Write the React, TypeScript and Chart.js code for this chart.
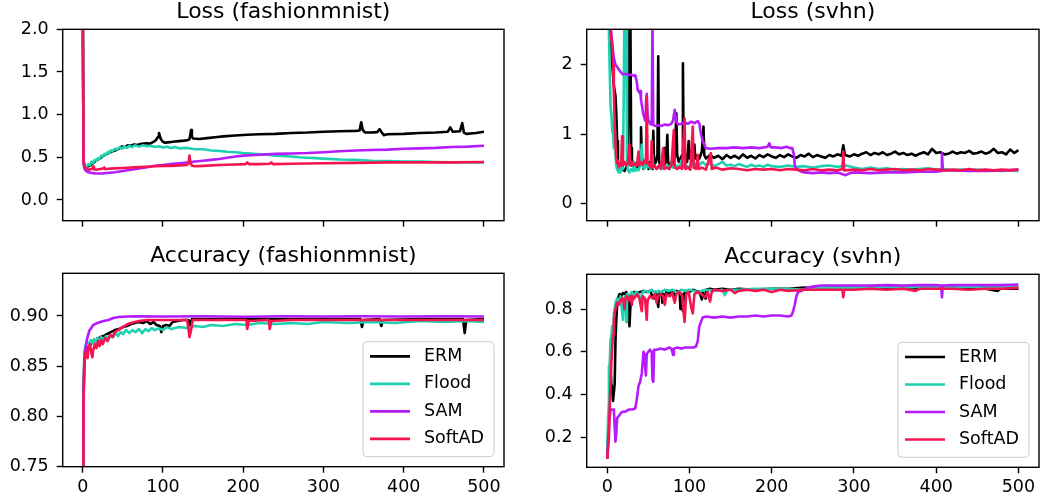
import React, { useEffect, useRef } from "react";
import { Chart, registerables } from "chart.js";
Chart.register(...registerables);

type Pt = [number, number];

const SERIES_NAMES = ["ERM", "Flood", "SAM", "SoftAD"];
const SERIES_COLORS = ["#000000", "#1fd1b1", "#b51cfd", "#f5144f"];
const X_TICKS = [0, 100, 200, 300, 400, 500];

// ---------- Loss (fashionmnist) ----------
const fmLossERM: Pt[] = [[0,2.3],[1,0.46],[2,0.41],[4,0.38],[6,0.39],[8,0.40],[10,0.41],[14,0.44],[18,0.47],[22,0.49],[26,0.52],[30,0.54],[35,0.56],[40,0.58],[45,0.60],[48,0.625],[52,0.62],[56,0.64],[60,0.635],[64,0.65],[68,0.645],[72,0.655],[76,0.66],[80,0.665],[84,0.66],[88,0.68],[91,0.70],[94,0.74],[95,0.785],[97,0.72],[99,0.69],[102,0.67],[106,0.675],[110,0.68],[115,0.685],[120,0.69],[126,0.695],[130,0.70],[133,0.71],[135,0.82],[136,0.74],[138,0.72],[145,0.715],[155,0.725],[165,0.735],[175,0.745],[190,0.755],[205,0.765],[220,0.77],[240,0.775],[260,0.785],[280,0.79],[300,0.80],[320,0.805],[340,0.81],[345,0.815],[347,0.91],[349,0.82],[352,0.79],[360,0.79],[367,0.795],[370,0.83],[372,0.80],[375,0.76],[380,0.77],[400,0.775],[420,0.785],[440,0.79],[455,0.80],[458,0.85],[461,0.80],[470,0.805],[473,0.90],[475,0.79],[478,0.775],[490,0.785],[500,0.80]];
const fmLossFlood: Pt[] = [[0,2.3],[1,0.45],[3,0.40],[5,0.39],[7,0.42],[9,0.41],[11,0.45],[13,0.43],[15,0.47],[17,0.46],[19,0.49],[21,0.48],[23,0.52],[25,0.51],[27,0.54],[29,0.53],[31,0.56],[33,0.55],[35,0.58],[37,0.57],[40,0.60],[43,0.59],[46,0.62],[49,0.60],[52,0.63],[55,0.61],[58,0.635],[61,0.62],[65,0.64],[70,0.625],[75,0.64],[80,0.63],[85,0.635],[90,0.62],[95,0.63],[100,0.615],[105,0.625],[110,0.61],[115,0.62],[120,0.605],[130,0.61],[140,0.595],[150,0.595],[160,0.58],[170,0.575],[180,0.565],[190,0.56],[200,0.55],[210,0.545],[220,0.535],[230,0.53],[240,0.52],[250,0.515],[260,0.51],[270,0.50],[280,0.495],[290,0.49],[300,0.485],[320,0.475],[340,0.47],[360,0.46],[380,0.455],[400,0.45],[420,0.45],[440,0.445],[460,0.44],[480,0.44],[500,0.44]];
const fmLossSAM: Pt[] = [[0,2.3],[1,0.42],[2,0.37],[4,0.34],[7,0.325],[10,0.318],[15,0.312],[20,0.31],[25,0.312],[30,0.316],[40,0.325],[50,0.34],[60,0.355],[70,0.37],[80,0.385],[90,0.40],[100,0.41],[110,0.42],[120,0.43],[130,0.44],[140,0.45],[150,0.46],[160,0.47],[170,0.48],[180,0.495],[190,0.51],[200,0.52],[220,0.53],[240,0.54],[260,0.545],[280,0.55],[300,0.56],[320,0.57],[340,0.58],[360,0.585],[380,0.59],[400,0.60],[420,0.605],[440,0.61],[460,0.62],[480,0.625],[500,0.635]];
const fmLossSoftAD: Pt[] = [[0,2.3],[1,0.46],[2,0.40],[4,0.37],[6,0.36],[8,0.355],[10,0.36],[12,0.37],[13,0.39],[14,0.36],[17,0.355],[20,0.36],[24,0.365],[27,0.38],[28,0.36],[32,0.365],[40,0.37],[50,0.375],[60,0.38],[70,0.385],[80,0.39],[90,0.395],[100,0.40],[110,0.40],[120,0.405],[130,0.41],[132,0.43],[133,0.52],[134,0.45],[136,0.40],[140,0.395],[150,0.40],[170,0.41],[190,0.415],[203,0.42],[205,0.44],[207,0.42],[220,0.42],[233,0.425],[235,0.44],[237,0.42],[260,0.425],[300,0.43],[340,0.435],[380,0.44],[420,0.44],[460,0.44],[500,0.445]];

// ---------- Loss (svhn) ----------
const svLossERM: Pt[] = [[0,3.0],[2,2.8],[4,2.4],[6,2.0],[8,1.7],[10,1.55],[11,1.3],[12,0.9],[13,0.6],[15,0.5],[17,0.48],[19,0.5],[21,0.47],[23,0.52],[25,0.6],[26,1.5],[27,3.0],[28,3.0],[29,0.8],[30,0.55],[32,0.6],[34,0.5],[36,0.55],[38,0.5],[40,0.6],[41,1.1],[42,0.7],[44,0.5],[46,0.55],[48,0.6],[50,0.5],[52,0.6],[55,0.5],[56,1.05],[57,0.55],[59,0.6],[61,0.7],[62,2.12],[63,0.6],[65,0.55],[67,0.6],[69,0.8],[70,0.55],[72,0.65],[73,0.99],[74,0.6],[76,0.55],[78,0.6],[80,0.55],[82,0.65],[84,1.3],[85,0.7],[87,0.6],[89,0.65],[91,0.7],[92,2.02],[93,0.65],[95,0.7],[97,0.6],[99,0.9],[100,0.65],[102,0.75],[104,0.6],[106,0.85],[107,0.65],[110,0.7],[112,0.65],[115,0.75],[117,1.11],[118,0.7],[120,0.65],[125,0.7],[130,0.66],[135,0.69],[140,0.64],[145,0.7],[150,0.66],[155,0.69],[160,0.65],[165,0.71],[170,0.66],[175,0.69],[180,0.65],[185,0.7],[190,0.67],[195,0.71],[200,0.68],[205,0.66],[210,0.7],[215,0.67],[220,0.71],[225,0.68],[230,0.66],[235,0.7],[240,0.68],[245,0.72],[250,0.67],[255,0.7],[260,0.68],[265,0.66],[270,0.7],[275,0.68],[280,0.71],[285,0.69],[287,0.84],[289,0.7],[295,0.68],[300,0.71],[305,0.69],[310,0.72],[315,0.74],[320,0.7],[325,0.73],[330,0.71],[335,0.74],[340,0.7],[345,0.72],[350,0.75],[355,0.71],[360,0.73],[365,0.7],[370,0.72],[375,0.69],[380,0.72],[385,0.74],[390,0.71],[395,0.79],[400,0.73],[405,0.74],[410,0.71],[415,0.72],[420,0.75],[425,0.72],[430,0.74],[435,0.73],[440,0.76],[445,0.72],[450,0.73],[455,0.75],[460,0.72],[465,0.74],[470,0.79],[475,0.73],[480,0.74],[485,0.71],[490,0.78],[495,0.73],[500,0.77]];
const svLossFlood: Pt[] = [[0,3.0],[2,2.5],[3,1.9],[4,1.4],[5,1.3],[6,1.05],[7,1.0],[8,0.8],[9,1.2],[10,0.7],[11,0.55],[12,0.5],[13,0.47],[14,0.45],[15,0.55],[16,0.45],[17,0.48],[18,0.85],[19,0.5],[20,1.5],[21,3.0],[22,3.0],[23,3.0],[24,0.6],[25,0.48],[27,0.45],[29,0.5],[31,0.47],[33,0.6],[34,0.47],[36,0.5],[38,0.48],[40,0.55],[42,0.85],[43,0.55],[45,0.5],[47,0.6],[49,0.52],[51,0.55],[53,0.5],[55,0.7],[56,0.52],[58,0.55],[60,0.5],[63,0.55],[66,0.5],[68,0.62],[70,0.52],[73,0.55],[76,0.5],[78,0.6],[80,0.52],[84,0.55],[88,0.52],[90,0.62],[92,0.52],[96,0.55],[100,0.52],[105,0.6],[108,0.53],[112,0.56],[116,0.6],[120,0.55],[125,0.58],[130,0.54],[135,0.57],[140,0.6],[145,0.55],[150,0.56],[155,0.54],[160,0.57],[165,0.55],[170,0.53],[175,0.56],[180,0.54],[185,0.55],[190,0.53],[195,0.56],[200,0.54],[210,0.53],[220,0.55],[230,0.53],[240,0.54],[250,0.52],[260,0.54],[270,0.55],[280,0.53],[290,0.55],[300,0.52],[310,0.5],[320,0.52],[330,0.5],[340,0.51],[350,0.49],[360,0.5],[370,0.49],[380,0.5],[390,0.51],[400,0.49],[410,0.5],[420,0.48],[430,0.49],[440,0.48],[450,0.49],[460,0.48],[470,0.48],[480,0.47],[490,0.48],[500,0.47]];
const svLossSAM: Pt[] = [[0,3.0],[2,2.9],[4,2.6],[6,2.3],[8,2.1],[10,2.0],[12,1.97],[14,1.93],[16,1.9],[18,1.87],[20,1.86],[23,1.87],[26,1.85],[29,1.86],[32,1.84],[34,1.85],[36,1.75],[37,1.64],[39,1.6],[40,1.62],[41,1.5],[43,1.35],[44,1.28],[46,1.2],[47,1.45],[48,1.58],[49,1.3],[50,1.2],[52,1.15],[54,1.14],[55,2.6],[56,1.13],[58,1.12],[62,1.13],[66,1.12],[70,1.14],[74,1.13],[78,1.15],[80,1.2],[82,1.35],[84,1.18],[86,1.14],[90,1.15],[94,1.17],[98,1.15],[102,1.18],[106,1.16],[110,1.19],[112,1.15],[114,1.0],[116,0.9],[118,0.85],[120,0.8],[125,0.79],[135,0.8],[145,0.8],[155,0.81],[165,0.8],[175,0.81],[185,0.8],[195,0.82],[197,0.87],[199,0.81],[205,0.81],[212,0.8],[218,0.82],[222,0.8],[225,0.8],[227,0.7],[228,0.55],[230,0.5],[233,0.48],[236,0.46],[240,0.45],[250,0.44],[260,0.45],[270,0.44],[280,0.45],[290,0.41],[295,0.44],[300,0.45],[320,0.44],[340,0.45],[360,0.45],[380,0.46],[400,0.46],[406,0.47],[407,0.72],[408,0.5],[410,0.48],[420,0.48],[440,0.47],[460,0.47],[480,0.48],[500,0.49]];
const svLossSoftAD: Pt[] = [[0,3.0],[2,3.0],[4,2.45],[6,2.3],[7,2.0],[8,1.6],[9,1.2],[10,0.85],[11,0.65],[12,0.58],[13,0.62],[14,0.52],[16,0.58],[17,0.55],[18,0.97],[19,0.55],[21,0.6],[23,0.55],[25,0.58],[27,0.85],[28,0.55],[30,0.6],[32,0.55],[34,0.58],[36,0.55],[38,0.75],[39,0.55],[41,0.6],[43,0.56],[45,0.62],[47,0.58],[48,1.54],[49,0.6],[51,0.55],[53,0.52],[54,0.9],[55,0.52],[57,0.55],[60,0.5],[63,0.55],[65,0.5],[68,0.8],[69,0.5],[72,0.52],[75,0.5],[78,0.55],[81,1.06],[82,0.52],[85,0.5],[88,0.53],[91,0.5],[94,1.23],[95,0.5],[98,0.52],[101,0.49],[104,1.11],[105,0.52],[108,0.5],[110,0.7],[111,0.5],[115,0.52],[120,0.49],[126,0.73],[127,0.5],[132,0.52],[140,0.49],[150,0.51],[160,0.5],[170,0.48],[180,0.5],[190,0.49],[200,0.5],[210,0.48],[220,0.5],[230,0.49],[240,0.48],[250,0.5],[260,0.48],[270,0.49],[280,0.48],[286,0.5],[287,0.75],[288,0.48],[300,0.49],[310,0.48],[320,0.5],[330,0.48],[340,0.49],[350,0.5],[360,0.48],[370,0.49],[380,0.48],[390,0.5],[400,0.49],[410,0.48],[420,0.49],[430,0.48],[440,0.5],[450,0.48],[460,0.49],[470,0.48],[480,0.49],[490,0.48],[500,0.49]];

// ---------- Accuracy (fashionmnist) ----------
const fmAccERM: Pt[] = [[0,0.60],[1,0.82],[2,0.855],[4,0.865],[6,0.868],[8,0.87],[10,0.872],[14,0.875],[18,0.876],[22,0.879],[26,0.88],[30,0.882],[35,0.884],[40,0.886],[45,0.887],[50,0.889],[55,0.89],[60,0.892],[65,0.893],[70,0.894],[75,0.893],[80,0.895],[84,0.892],[88,0.894],[92,0.891],[96,0.89],[98,0.884],[100,0.89],[104,0.891],[108,0.89],[112,0.894],[118,0.895],[125,0.896],[132,0.896],[134,0.89],[136,0.897],[150,0.897],[200,0.897],[250,0.897],[300,0.897],[346,0.897],[348,0.889],[350,0.896],[370,0.897],[372,0.89],[374,0.896],[420,0.897],[474,0.897],[476,0.883],[478,0.896],[500,0.897]];
const fmAccFlood: Pt[] = [[0,0.60],[1,0.83],[2,0.865],[4,0.872],[6,0.874],[8,0.871],[10,0.876],[12,0.873],[14,0.877],[16,0.874],[18,0.878],[20,0.875],[23,0.879],[26,0.876],[29,0.88],[32,0.877],[35,0.881],[38,0.879],[41,0.883],[44,0.88],[47,0.884],[50,0.882],[54,0.886],[58,0.883],[62,0.886],[66,0.884],[70,0.887],[74,0.883],[78,0.887],[82,0.885],[86,0.888],[90,0.886],[95,0.888],[100,0.886],[105,0.889],[110,0.887],[120,0.889],[130,0.888],[140,0.89],[150,0.889],[160,0.891],[175,0.89],[190,0.892],[205,0.891],[220,0.893],[240,0.892],[260,0.893],[280,0.892],[300,0.894],[330,0.893],[360,0.894],[390,0.893],[420,0.895],[450,0.894],[480,0.895],[500,0.894]];
const fmAccSAM: Pt[] = [[0,0.62],[1,0.83],[2,0.855],[3,0.866],[5,0.876],[8,0.885],[13,0.891],[18,0.893],[26,0.895],[32,0.896],[38,0.898],[45,0.899],[55,0.8995],[70,0.8998],[100,0.8995],[150,0.8998],[200,0.8993],[250,0.8998],[300,0.8995],[350,0.8998],[400,0.8995],[450,0.8998],[500,0.8995]];
const fmAccSoftAD: Pt[] = [[0,0.60],[1,0.81],[2,0.855],[3,0.862],[5,0.866],[6,0.858],[7,0.868],[9,0.872],[11,0.862],[12,0.859],[13,0.866],[15,0.872],[17,0.868],[19,0.875],[21,0.87],[23,0.876],[25,0.872],[28,0.878],[31,0.875],[34,0.881],[37,0.879],[40,0.884],[44,0.886],[48,0.888],[52,0.89],[56,0.892],[60,0.893],[65,0.894],[70,0.895],[80,0.896],[100,0.896],[130,0.896],[132,0.886],[133,0.879],[135,0.886],[137,0.896],[160,0.896],[204,0.896],[205,0.887],[207,0.895],[232,0.896],[233,0.887],[235,0.895],[260,0.896],[300,0.896],[400,0.896],[500,0.896]];

// ---------- Accuracy (svhn) ----------
const svAccERM: Pt[] = [[0,0.1],[2,0.3],[3,0.45],[4,0.52],[5,0.45],[6,0.42],[7,0.37],[8,0.37],[9,0.45],[10,0.65],[11,0.75],[12,0.82],[13,0.85],[15,0.87],[17,0.86],[19,0.875],[21,0.87],[23,0.88],[25,0.86],[27,0.72],[28,0.8],[29,0.86],[31,0.87],[33,0.88],[36,0.875],[40,0.88],[44,0.885],[48,0.88],[52,0.885],[55,0.86],[57,0.85],[59,0.88],[62,0.81],[63,0.87],[66,0.88],[67,0.83],[68,0.87],[70,0.86],[72,0.88],[75,0.87],[78,0.885],[82,0.86],[84,0.885],[88,0.88],[89,0.80],[90,0.87],[92,0.79],[93,0.87],[96,0.885],[100,0.88],[104,0.89],[108,0.885],[112,0.88],[115,0.845],[116,0.88],[119,0.85],[120,0.89],[125,0.895],[130,0.89],[140,0.895],[150,0.89],[160,0.895],[180,0.89],[200,0.895],[220,0.895],[240,0.9],[260,0.895],[280,0.9],[300,0.895],[320,0.9],[340,0.895],[360,0.9],[380,0.895],[400,0.9],[420,0.895],[440,0.9],[460,0.895],[475,0.885],[478,0.895],[500,0.895]];
const svAccFlood: Pt[] = [[0,0.1],[1,0.3],[2,0.53],[3,0.55],[4,0.66],[5,0.67],[6,0.72],[7,0.68],[8,0.78],[9,0.8],[10,0.83],[12,0.85],[14,0.83],[16,0.86],[18,0.79],[19,0.75],[20,0.85],[22,0.86],[23,0.74],[24,0.87],[26,0.85],[28,0.87],[30,0.88],[32,0.86],[35,0.88],[38,0.87],[41,0.84],[43,0.88],[46,0.885],[50,0.88],[54,0.89],[58,0.875],[62,0.885],[66,0.88],[70,0.89],[75,0.885],[80,0.89],[85,0.875],[90,0.89],[95,0.885],[100,0.89],[110,0.88],[120,0.89],[130,0.885],[140,0.89],[143,0.865],[146,0.89],[160,0.89],[180,0.895],[200,0.895],[220,0.895],[240,0.89],[260,0.9],[280,0.9],[300,0.9],[320,0.9],[340,0.905],[360,0.9],[380,0.905],[400,0.905],[420,0.905],[440,0.905],[460,0.905],[480,0.905],[500,0.905]];
const svAccSAM: Pt[] = [[0,0.1],[2,0.25],[3,0.3],[4,0.33],[6,0.33],[8,0.33],[9,0.25],[10,0.18],[11,0.22],[12,0.29],[14,0.3],[16,0.31],[18,0.32],[22,0.32],[26,0.33],[30,0.33],[34,0.335],[36,0.38],[38,0.44],[40,0.46],[42,0.5],[43,0.55],[44,0.6],[45,0.59],[46,0.53],[47,0.49],[48,0.59],[50,0.6],[52,0.61],[54,0.6],[55,0.47],[56,0.46],[57,0.61],[60,0.61],[65,0.615],[70,0.61],[75,0.62],[78,0.615],[80,0.585],[81,0.615],[85,0.62],[90,0.615],[95,0.62],[100,0.62],[105,0.62],[108,0.625],[110,0.65],[112,0.72],[114,0.74],[116,0.76],[120,0.765],[130,0.76],[140,0.765],[150,0.76],[160,0.765],[170,0.765],[180,0.77],[190,0.765],[200,0.77],[210,0.77],[220,0.765],[224,0.77],[226,0.79],[228,0.82],[230,0.86],[232,0.88],[236,0.885],[240,0.895],[250,0.905],[260,0.91],[280,0.91],[300,0.91],[320,0.91],[340,0.912],[360,0.91],[380,0.912],[400,0.912],[406,0.91],[407,0.855],[408,0.91],[420,0.912],[440,0.912],[460,0.912],[480,0.912],[500,0.915]];
const svAccSoftAD: Pt[] = [[0,0.1],[2,0.2],[3,0.35],[4,0.45],[5,0.55],[6,0.62],[7,0.68],[8,0.75],[10,0.8],[12,0.83],[14,0.82],[16,0.84],[18,0.85],[20,0.83],[21,0.8],[22,0.85],[24,0.86],[26,0.84],[28,0.86],[30,0.82],[31,0.86],[33,0.85],[36,0.87],[39,0.85],[42,0.79],[43,0.86],[46,0.85],[48,0.75],[49,0.84],[52,0.86],[55,0.85],[58,0.87],[60,0.83],[62,0.86],[65,0.87],[68,0.86],[70,0.82],[72,0.87],[76,0.86],[79,0.875],[82,0.83],[84,0.87],[88,0.88],[91,0.86],[94,0.74],[96,0.87],[99,0.88],[102,0.81],[104,0.78],[106,0.87],[110,0.88],[114,0.87],[119,0.855],[122,0.88],[125,0.835],[127,0.88],[130,0.89],[140,0.885],[150,0.89],[155,0.875],[160,0.885],[170,0.89],[180,0.885],[190,0.89],[200,0.88],[210,0.89],[220,0.885],[240,0.89],[260,0.89],[280,0.89],[286,0.89],[287,0.855],[288,0.89],[300,0.89],[320,0.895],[340,0.89],[360,0.895],[375,0.885],[380,0.895],[400,0.895],[420,0.895],[440,0.89],[460,0.895],[480,0.895],[500,0.9]];

const TL_Y_TICKS = [0, 0.5, 1, 1.5, 2];
const TR_Y_TICKS = [0, 1, 2];
const BL_Y_TICKS = [0.75, 0.8, 0.85, 0.9];
const BR_Y_TICKS = [0.2, 0.4, 0.6, 0.8];

const FONT = "'DejaVu Sans', sans-serif";
const TICK_SIZE = 17.5;

interface PanelDef {
  title: string;
  series: Pt[][];
  yMin: number;
  yMax: number;
  yTicks: number[];
  decimals: number;
  left: number;
  top: number;
  w: number;
  h: number;
  area: { l: number; t: number; r: number; b: number };
  xLabels: boolean;
  legend: boolean;
}

const PANELS: PanelDef[] = [
  { title: "Loss (fashionmnist)", series: [fmLossERM, fmLossFlood, fmLossSAM, fmLossSoftAD], yMin: -0.243, yMax: 2.0, yTicks: TL_Y_TICKS, decimals: 1, left: 0, top: 0, w: 520, h: 240, area: { l: 62.7, t: 29.3, r: 504, b: 220.7 }, xLabels: false, legend: false },
  { title: "Loss (svhn)", series: [svLossERM, svLossFlood, svLossSAM, svLossSoftAD], yMin: -0.245, yMax: 2.51, yTicks: TR_Y_TICKS, decimals: 0, left: 520, top: 0, w: 522, h: 240, area: { l: 66.7, t: 29.3, r: 519, b: 220.7 }, xLabels: false, legend: false },
  { title: "Accuracy (fashionmnist)", series: [fmAccERM, fmAccFlood, fmAccSAM, fmAccSoftAD], yMin: 0.75, yMax: 0.9425, yTicks: BL_Y_TICKS, decimals: 2, left: 0, top: 240, w: 520, h: 259, area: { l: 62.7, t: 33.3, r: 504, b: 226.7 }, xLabels: true, legend: true },
  { title: "Accuracy (svhn)", series: [svAccERM, svAccFlood, svAccSAM, svAccSoftAD], yMin: 0.06, yMax: 0.9625, yTicks: BR_Y_TICKS, decimals: 1, left: 520, top: 240, w: 522, h: 259, area: { l: 66.7, t: 34.3, r: 519, b: 227.3 }, xLabels: true, legend: true },
];

const framePlugin = {
  id: "frame",
  afterDatasetsDraw(chart: any, _args: any, opts: any) {
    const { ctx, chartArea: a } = chart;
    ctx.save();
    ctx.strokeStyle = "#000";
    ctx.lineWidth = 1.4;
    ctx.strokeRect(a.left, a.top, a.right - a.left, a.bottom - a.top);
    ctx.fillStyle = "#000";
    ctx.font = `22px ${FONT}`;
    ctx.textAlign = "center";
    ctx.textBaseline = "alphabetic";
    ctx.fillText(opts.title, (a.left + a.right) / 2, a.top - 11);
    if (opts.legend) {
      const bw = 131;
      const bh = 115;
      const x0 = a.right - 10 - bw;
      const y0 = a.bottom - 10 - bh;
      const r = 4;
      ctx.beginPath();
      ctx.moveTo(x0 + r, y0);
      ctx.arcTo(x0 + bw, y0, x0 + bw, y0 + bh, r);
      ctx.arcTo(x0 + bw, y0 + bh, x0, y0 + bh, r);
      ctx.arcTo(x0, y0 + bh, x0, y0, r);
      ctx.arcTo(x0, y0, x0 + bw, y0, r);
      ctx.closePath();
      ctx.fillStyle = "rgba(255,255,255,0.8)";
      ctx.fill();
      ctx.strokeStyle = "#cccccc";
      ctx.lineWidth = 1;
      ctx.stroke();
      ctx.font = `${TICK_SIZE}px ${FONT}`;
      ctx.textAlign = "left";
      ctx.textBaseline = "middle";
      SERIES_NAMES.forEach((name, i) => {
        const y = y0 + 14.7 + i * 27.5;
        ctx.strokeStyle = SERIES_COLORS[i];
        ctx.lineWidth = 2.6;
        ctx.beginPath();
        ctx.moveTo(x0 + 7, y);
        ctx.lineTo(x0 + 47, y);
        ctx.stroke();
        ctx.fillStyle = "#000";
        ctx.fillText(name, x0 + 61, y);
      });
    }
    ctx.restore();
  },
};

function Panel({ p }: { p: PanelDef }) {
  const ref = useRef<HTMLCanvasElement>(null);
  useEffect(() => {
    const canvas = ref.current!;
    const chart = new Chart(canvas, {
      type: "line",
      data: {
        datasets: p.series.map((s, i) => ({
          label: SERIES_NAMES[i],
          data: s.map(([x, y]) => ({ x, y })),
          borderColor: SERIES_COLORS[i],
          backgroundColor: SERIES_COLORS[i],
          borderWidth: 2.6,
          pointRadius: 0,
          tension: 0,
          fill: false,
          clip: 0,
          order: 4 - i,
          borderJoinStyle: "round" as const,
        })),
      },
      options: {
        responsive: false,
        animation: false,
        devicePixelRatio: 1,
        layout: { padding: { left: 0, top: p.area.t, right: p.w - p.area.r, bottom: 0 } },
        plugins: {
          legend: { display: false },
          tooltip: { enabled: false },
          frame: { title: p.title, legend: p.legend },
        } as any,
        scales: {
          x: {
            type: "linear",
            min: -25,
            max: 525,
            border: { display: false },
            grid: { display: true, drawOnChartArea: false, drawTicks: true, tickLength: 6, color: "#000", tickWidth: 1.4 },
            ticks: {
              display: p.xLabels,
              padding: 4,
              color: "#000",
              font: { family: FONT, size: TICK_SIZE },
              maxRotation: 0,
              callback: (v: any) => String(v),
            },
            afterBuildTicks: (scale: any) => {
              scale.ticks = X_TICKS.map((v) => ({ value: v }));
            },
            afterFit: (scale: any) => {
              scale.height = p.h - p.area.b;
            },
          },
          y: {
            type: "linear",
            min: p.yMin,
            max: p.yMax,
            border: { display: false },
            grid: { display: true, drawOnChartArea: false, drawTicks: true, tickLength: 6, color: "#000", tickWidth: 1.4 },
            ticks: {
              padding: 8,
              color: "#000",
              font: { family: FONT, size: TICK_SIZE },
              callback: (v: any) => Number(v).toFixed(p.decimals),
            },
            afterBuildTicks: (scale: any) => {
              scale.ticks = p.yTicks.map((v) => ({ value: v }));
            },
            afterFit: (scale: any) => {
              scale.width = p.area.l;
            },
          },
        },
      },
      plugins: [framePlugin],
    } as any);
    return () => chart.destroy();
  }, []);
  return (
    <canvas
      ref={ref}
      width={p.w}
      height={p.h}
      style={{ position: "absolute", left: p.left, top: p.top, width: p.w, height: p.h }}
    />
  );
}

export default function App() {
  return (
    <div style={{ position: "absolute", left: 0, top: 0, width: 1042, height: 499, background: "#fff" }}>
      {PANELS.map((p, i) => (
        <Panel key={i} p={p} />
      ))}
    </div>
  );
}
